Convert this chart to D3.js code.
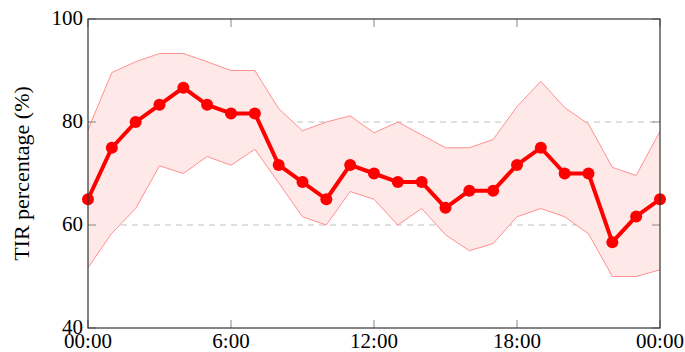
<!DOCTYPE html>
<html>
<head>
<meta charset="utf-8">
<script src="https://cdn.jsdelivr.net/npm/d3@7"></script>
<style>
  body { margin: 0; background: #fff; }
</style>
</head>
<body>
<svg id="svg" width="685" height="352"></svg>
<script>
// hour of day (0..24)
const hours = d3.range(0, 25)
// mean TIR per hour
const meanTIR = [65, 75, 80, 83.33, 86.67, 83.33, 81.67, 81.67, 71.67, 68.33, 65, 71.67, 70,
  68.33, 68.33, 63.33, 66.67, 66.67, 71.67, 75, 70, 70, 56.67, 61.67, 65]
// upper / lower edge of the shaded band
const upperTIR = [78.5, 89.6, 91.7, 93.3, 93.3, 91.7, 90, 90, 82.6, 78.3, 80, 81.2, 77.9,
  80, 77.5, 75, 75, 76.6, 83, 87.9, 82.8, 79.6, 71.2, 69.6, 78.2]
const lowerTIR = [51.7, 58.4, 63.2, 71.5, 70, 73.3, 71.6, 74.7, 68.2, 61.6, 60, 66.5, 65,
  60, 63.2, 58.1, 55, 56.4, 61.6, 63.2, 61.6, 58.3, 50, 50, 51.3]
const yTicks = [40, 60, 80, 100]
const xTicks = [0, 6, 12, 18, 24]
const xTickLabels = ["00:00", "6:00", "12:00", "18:00", "00:00"]

const serif = "Liberation Serif"
const svg = d3.select("#svg")
const pLeft = 88, pRight = 660, pTop = 19, pBottom = 328

const x = d3.scaleLinear().domain([0, 24]).range([pLeft, pRight])
const y = d3.scaleLinear().domain([40, 100]).range([pBottom, pTop])

const rows = hours.map((h, i) => ({h, m: meanTIR[i], hi: upperTIR[i], lo: lowerTIR[i]}))

// grid
svg.selectAll(".grid").data([60, 80]).enter().append("line")
    .attr("x1", pLeft).attr("x2", pRight)
    .attr("y1", d => y(d)).attr("y2", d => y(d))
    .attr("stroke", "#c0c0c0").attr("stroke-width", 1)
    .attr("stroke-dasharray", "6,5")

// band
svg.append("path").datum(rows)
    .attr("d", d3.area().x(d => x(d.h)).y0(d => y(d.lo)).y1(d => y(d.hi)))
    .attr("fill", "#ffe8e8")
svg.selectAll(".edge").data(["hi", "lo"]).enter().append("path")
    .attr("d", k => d3.line().x(d => x(d.h)).y(d => y(d[k]))(rows))
    .attr("fill", "none").attr("stroke", "#ff9090").attr("stroke-width", 1)

// ticks, inward on all sides
const tickLen = 8
yTicks.forEach(t => {
    svg.append("line").attr("x1", pLeft).attr("x2", pLeft + tickLen)
        .attr("y1", y(t)).attr("y2", y(t)).attr("stroke", "#888")
    svg.append("line").attr("x1", pRight).attr("x2", pRight - tickLen)
        .attr("y1", y(t)).attr("y2", y(t)).attr("stroke", "#888")
})
xTicks.forEach(t => {
    svg.append("line").attr("x1", x(t)).attr("x2", x(t))
        .attr("y1", pBottom).attr("y2", pBottom - tickLen).attr("stroke", "#888")
    svg.append("line").attr("x1", x(t)).attr("x2", x(t))
        .attr("y1", pTop).attr("y2", pTop + tickLen).attr("stroke", "#888")
})

// mean line + markers
svg.append("path").datum(rows)
    .attr("d", d3.line().x(d => x(d.h)).y(d => y(d.m)))
    .attr("fill", "none").attr("stroke", "#ff0000").attr("stroke-width", 4)
    .attr("stroke-linejoin", "round")
svg.selectAll(".dot").data(rows).enter().append("circle")
    .attr("cx", d => x(d.h)).attr("cy", d => y(d.m)).attr("r", 6)
    .attr("fill", "#ff0000")

// frame
svg.append("rect").attr("x", pLeft).attr("y", pTop)
    .attr("width", pRight - pLeft).attr("height", pBottom - pTop)
    .attr("fill", "none").attr("stroke", "#333").attr("stroke-width", 1.2)

// tick labels
svg.selectAll(".yl").data(yTicks).enter().append("text")
    .attr("x", pLeft - 5).attr("y", d => y(d) + 6)
    .attr("text-anchor", "end").attr("font-family", serif).attr("font-size", 21)
    .text(d => d)
svg.selectAll(".xl").data(xTicks).enter().append("text")
    .attr("x", d => x(d)).attr("y", 348)
    .attr("text-anchor", "middle").attr("font-family", serif).attr("font-size", 21)
    .text((d, i) => xTickLabels[i])

svg.append("text")
    .attr("transform", `translate(29,${(pTop + pBottom) / 2}) rotate(-90)`)
    .attr("text-anchor", "middle").attr("font-family", serif).attr("font-size", 22)
    .text("TIR percentage (%)")
</script>
</body>
</html>
